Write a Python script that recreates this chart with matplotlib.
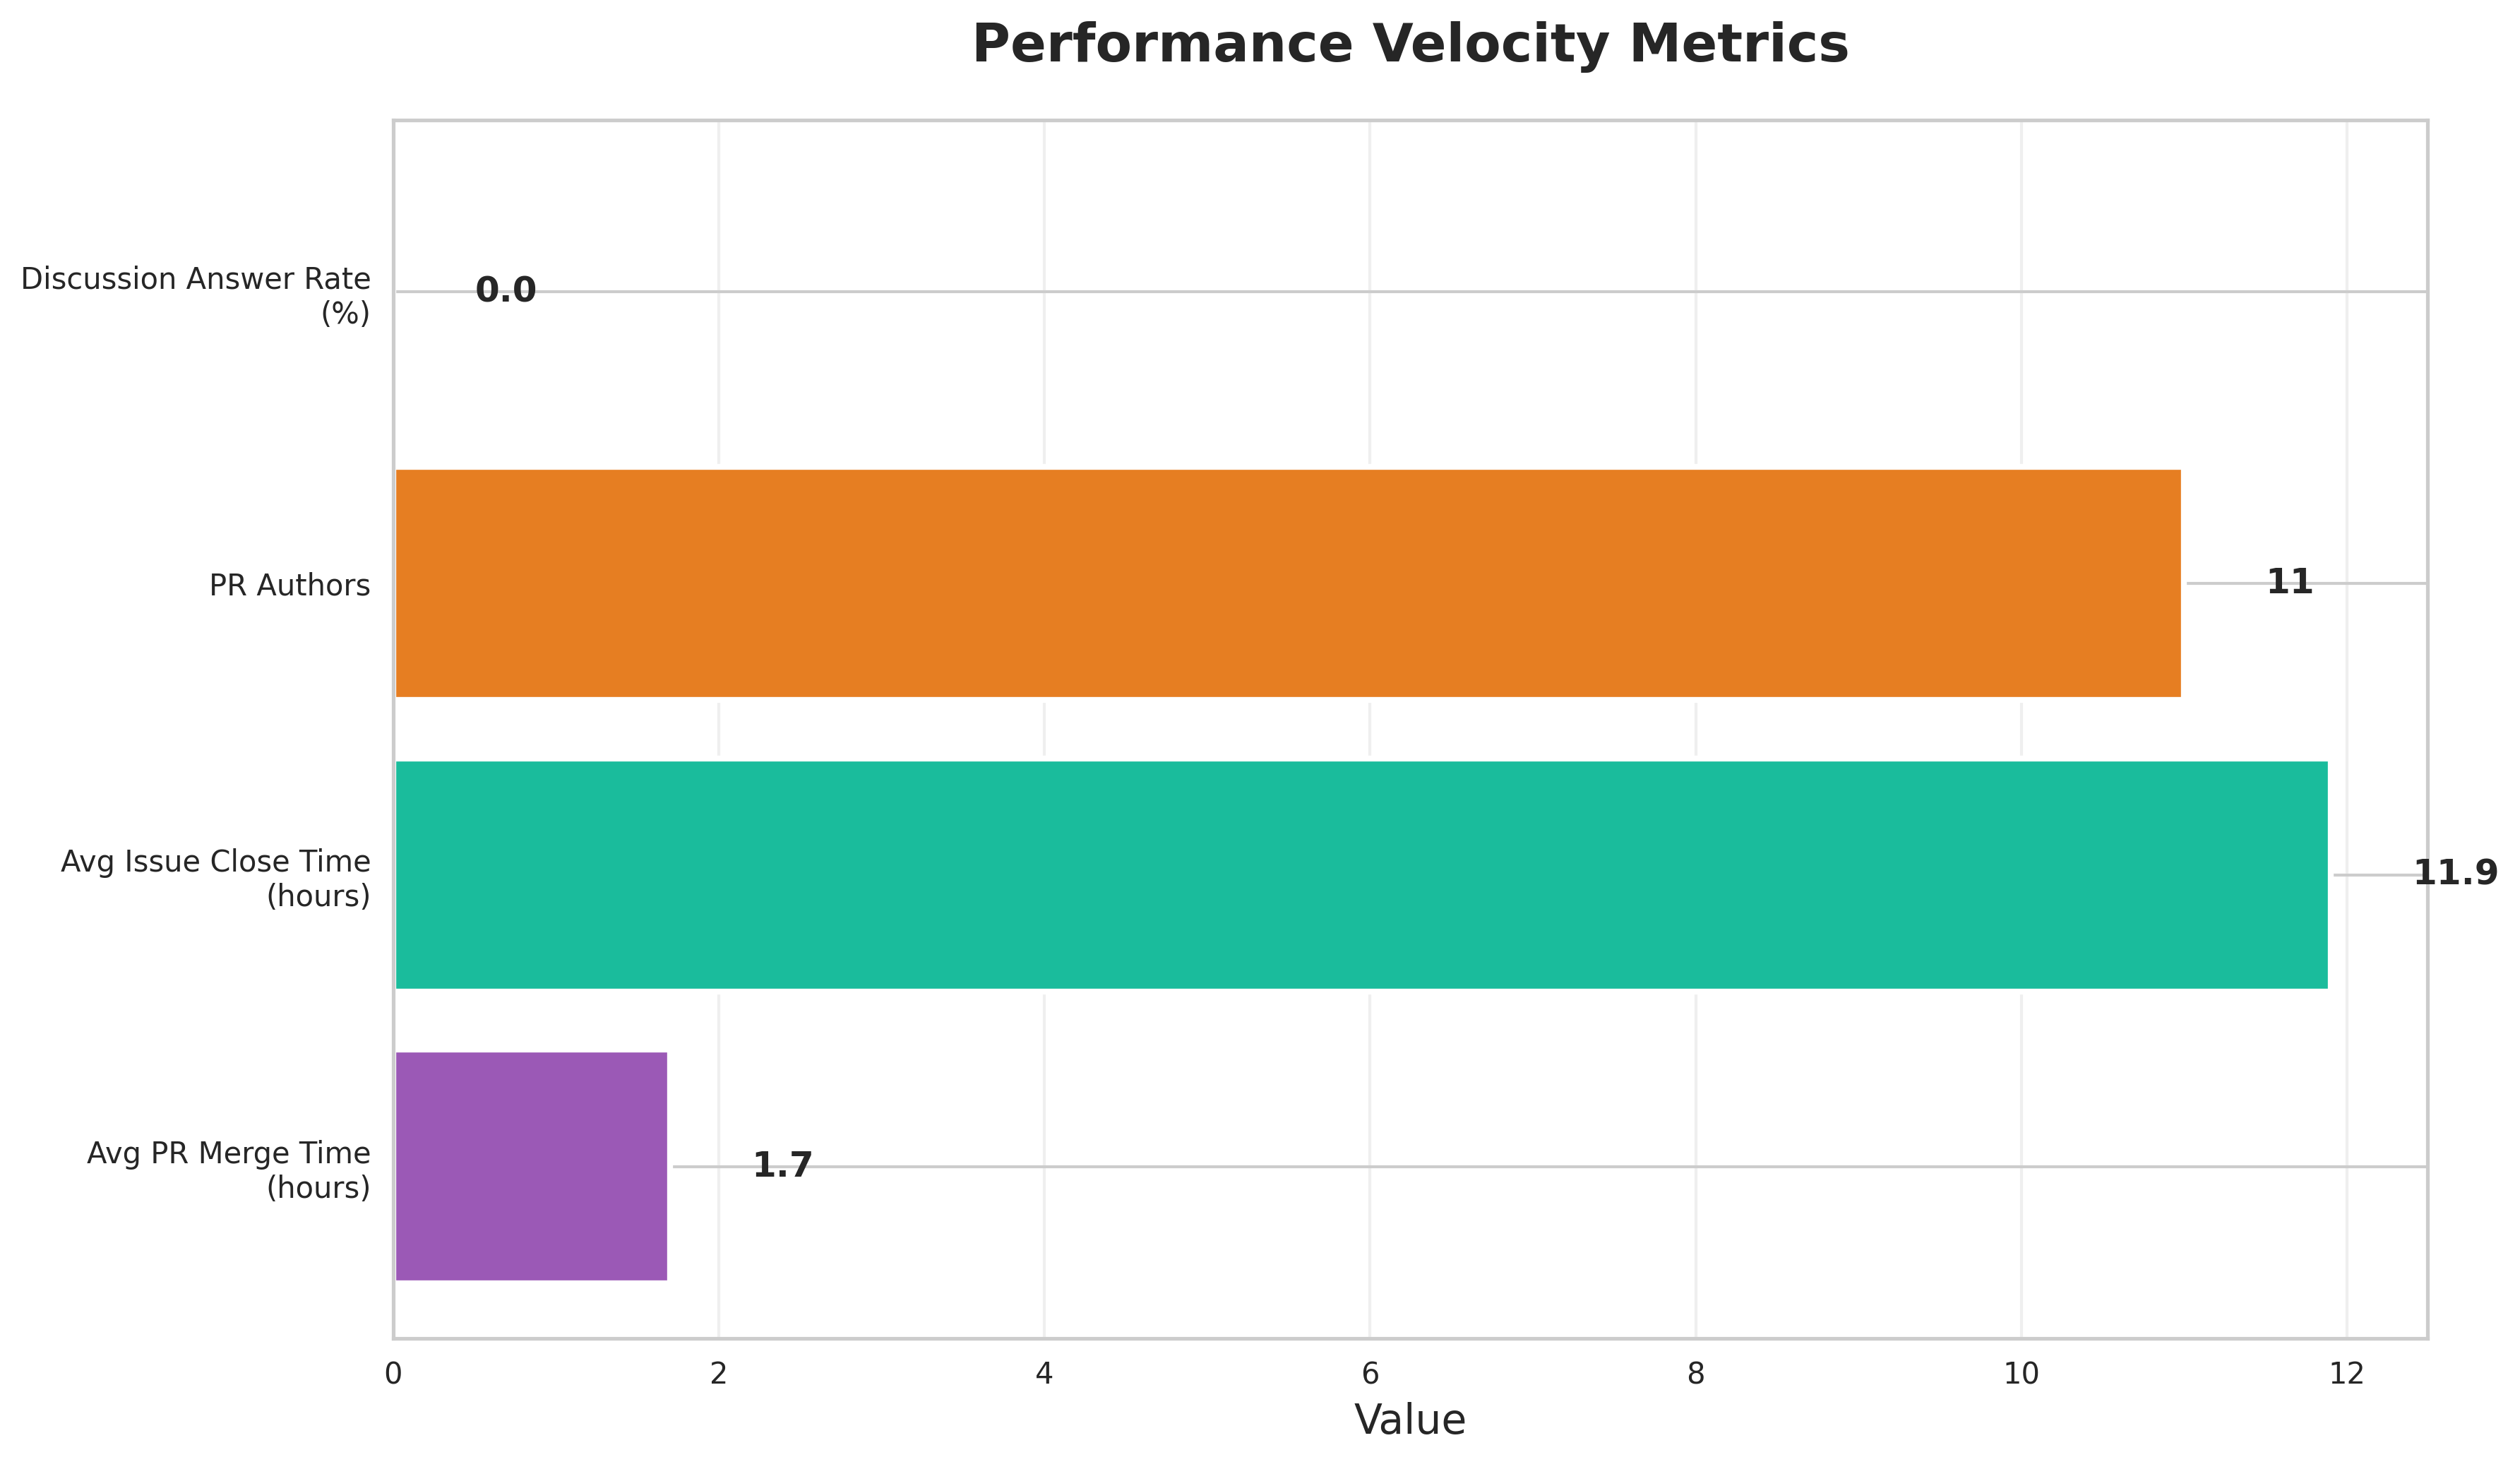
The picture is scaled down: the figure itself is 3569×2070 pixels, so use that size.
import matplotlib
matplotlib.use("Agg")
import matplotlib.pyplot as plt

categories = ["Avg PR Merge Time\n(hours)", "Avg Issue Close Time\n(hours)", "PR Authors", "Discussion Answer Rate\n(%)"]
values = [1.7, 11.9, 11, 0.0]
value_labels = ["1.7", "11.9", "11", "0.0"]
colors = ["#9b59b6", "#1abc9c", "#e67e22", "#3498db"]
xticks = [0, 2, 4, 6, 8, 10, 12]

TXT = "#262626"
plt.rcParams["font.family"] = ["DejaVu Sans"]
plt.rcParams["text.color"] = TXT
plt.rcParams["axes.labelcolor"] = TXT
plt.rcParams["xtick.color"] = TXT
plt.rcParams["ytick.color"] = TXT

fig = plt.figure(figsize=(3569 / 300, 2070 / 300), dpi=300)
ax = fig.add_axes([557 / 3569, 1 - 1895 / 2070, (3438 - 557) / 3569, (1895 - 170) / 2070])
ax.set_axisbelow(True)

ypos = list(range(len(categories)))
ax.barh(ypos, values, height=0.8, color=colors, edgecolor="white", linewidth=2)

ax.set_yticks(ypos)
ax.set_yticklabels(categories)
ax.set_xticks(xticks)
ax.set_xlim(0, max(values) * 1.05)

ax.grid(axis="y", color="#cccccc", linewidth=1)
ax.grid(axis="x", color="#cccccc", linewidth=1, alpha=0.3)
for s in ax.spines.values():
    s.set_color("#cccccc")
    s.set_linewidth(1.25)
ax.tick_params(axis="both", length=0, pad=7.5, labelsize=10)

offset = 0.5
for y, v, lab in zip(ypos, values, value_labels):
    ax.text(v + offset, y, lab, ha="left", va="center", fontsize=12, fontweight="bold", color=TXT)

ax.set_xlabel("Value", fontsize=14, labelpad=4)
ax.set_title("Performance Velocity Metrics", fontsize=18, fontweight="bold", pad=20)

fig.savefig("out.png", dpi=300)
